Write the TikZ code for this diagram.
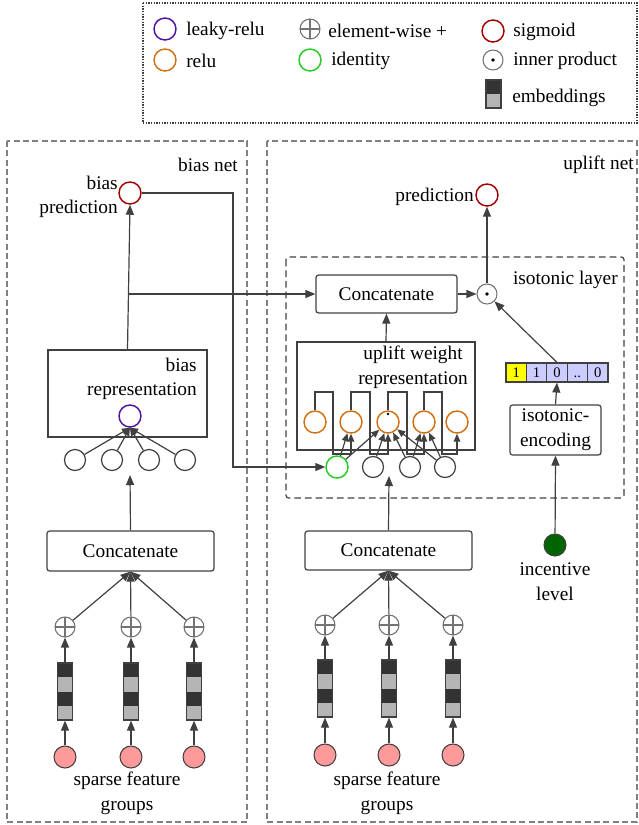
\documentclass[tikz,border=0pt]{standalone}
\usepackage{fontspec}
\setmainfont{Liberation Serif}
\usetikzlibrary{arrows.meta}
\definecolor{lc}{HTML}{404040}
\definecolor{purp}{HTML}{5012A0}
\definecolor{orng}{HTML}{D07012}
\definecolor{grn}{HTML}{22CC22}
\definecolor{sigred}{HTML}{A00000}
\definecolor{pinkf}{HTML}{FF9A9A}
\definecolor{dgrn}{HTML}{006400}
\definecolor{embd}{HTML}{333333}
\definecolor{embl}{HTML}{B4B4B4}
\definecolor{lav}{HTML}{CCCCFF}
\definecolor{yel}{HTML}{FFFF00}
\newcommand\embbar[3]{%
  \fill[embd] ({#2-7.5},{#3-28.5}) rectangle ({#2+7.5},{#3-14.25});
  \fill[embl] ({#2-7.5},{#3-14.25}) rectangle ({#2+7.5},{#3});
  \fill[embd] ({#2-7.5},{#3}) rectangle ({#2+7.5},{#3+14.25});
  \fill[embl] ({#2-7.5},{#3+14.25}) rectangle ({#2+7.5},{#3+28.5});
  \node[draw=lc, line width=0.9pt, minimum width=11.25pt, minimum height=42.75pt, inner sep=0] (#1) at (#2,#3) {};
}
\begin{document}
\begin{tikzpicture}[x=0.75pt,y=-0.75pt, font=\fontsize{14.5}{18.5}\selectfont,
  line/.style={draw=lc, line width=0.9pt},
  arr/.style={line, -{Triangle[length=7.5pt,width=6pt]}},
  sarr/.style={line, -{Triangle[length=6pt,width=5pt]}},
  neuron/.style={circle, minimum size=16.5pt, inner sep=0, line width=1.1pt},
  plusn/.style={circle, draw=gray!90!black, minimum size=15pt, inner sep=0, line width=0.8pt,
    path picture={\draw[gray!90!black, line width=0.8pt] (path picture bounding box.north) -- (path picture bounding box.south)
      (path picture bounding box.west) -- (path picture bounding box.east);}},
  dotn/.style={circle, draw=gray!90!black, minimum size=15pt, inner sep=0, line width=0.8pt,
    path picture={\fill[black] (path picture bounding box.center) circle (1.4pt);}},
  pinkn/.style={circle, draw=lc, fill=pinkf, minimum size=16.5pt, inner sep=0, line width=0.8pt},
  catbox/.style={draw=lc, line width=0.9pt, rounded corners=2pt, inner sep=0},
  lbl/.style={inner sep=0},
  cell/.style={draw=lc, line width=0.8pt, minimum width=15.3pt, minimum height=14.25pt, inner sep=0,
    text height=7.5pt, text depth=0pt, font=\fontsize{11}{12}\selectfont},
  netbox/.style={draw=gray, line width=0.8pt, dash pattern=on 4.5pt off 2.5pt}
]
\useasboundingbox (0,0) rectangle (639,825);

% ---------------- legend ----------------
\draw[lc, line width=0.8pt, dash pattern=on 1pt off 1pt] (143,3) rectangle (637,123);
\node[neuron, draw=purp] (lg1) at (165,29) {};
\node[lbl, anchor=west] (lt1) at (186,31) {leaky-relu};
\node[neuron, draw=orng] (lg2) at (165,60) {};
\node[lbl, anchor=west] (lt2) at (186,61) {relu};
\node[plusn] (lg3) at (310,29) {};
\node[lbl, anchor=west] (lt3) at (328,31) {element-wise +};
\node[neuron, draw=grn] (lg4) at (310,60) {};
\node[lbl, anchor=west] (lt4) at (331,61) {identity};
\node[neuron, draw=sigred] (lg5) at (493,31) {};
\node[lbl, anchor=west] (lt5) at (513,32) {sigmoid};
\node[dotn] (lg6) at (493,60) {};
\node[lbl, anchor=west] (lt6) at (513,61) {inner product};
\fill[embd] (486,80) rectangle (501,94);
\fill[embl] (486,94) rectangle (501,108);
\node[draw=lc, line width=0.8pt, minimum width=11.25pt, minimum height=21pt, inner sep=0] (lg7) at (493.5,94) {};
\node[lbl, anchor=west] (lt7) at (512,98) {embeddings};

% ---------------- net boxes ----------------
\draw[netbox] (7,141) rectangle (247,822);
\draw[netbox] (267,141) rectangle (637,822);
\node[lbl, anchor=east] (bnl) at (238,165) {bias net};
\node[lbl, anchor=east] (unl) at (634,165) {uplift net};

% isotonic layer
\draw[lc, line width=0.9pt, dash pattern=on 5pt off 3pt, rounded corners=2pt] (286,257) rectangle (624,498);
\node[lbl, anchor=east] (isl) at (618,280) {isotonic layer};

% ---------------- bias net ----------------
\node[neuron, draw=sigred] (bp) at (130,193) {};
\node[lbl, anchor=east, align=right] (bpl) at (118,197) {bias\\prediction};
\node[draw=lc, line width=0.9pt, minimum width=119.25pt, minimum height=65.25pt, inner sep=0] (brep) at (127.5,393.5) {};
\node[lbl, anchor=east, align=right] (brepl) at (197,379) {bias\\representation};
\node[neuron, draw=purp] (lr) at (130,416) {};
\foreach \i/\x in {1/75,2/112,3/149,4/185} {
  \node[neuron, draw=lc, line width=0.9pt, minimum size=15.75pt] (h\i) at (\x,460) {};
  \draw[sarr] (h\i) -- (lr.south);
}
\node[catbox, minimum width=125.25pt, minimum height=30pt] (bcat) at (130.5,551) {Concatenate};
\coordinate (bin) at (130,475);
\draw[arr] (bcat.north) -- (bin);
\foreach \i/\x in {1/65,2/131,3/194} {
  \node[plusn] (bpl\i) at (\x,627) {};
  \embbar{be\i}{\x}{691.5}
  \node[pinkn] (bpk\i) at (\x,757) {};
  \draw[arr] (bpk\i) -- (be\i.south);
  \draw[arr] (be\i.north) -- (bpl\i);
  \draw[arr] (bpl\i) -- (bcat.south);
}
\node[lbl, align=center] (bsf) at (127,793) {sparse feature\\groups};

\draw[arr] (brep.north) -- (bp.south);
\coordinate (bj) at (128.2,294);
\coordinate (bc1) at (233,193);

% ---------------- uplift net ----------------
\node[neuron, draw=sigred] (pr) at (487,195) {};
\node[lbl, anchor=east] (prl) at (474,197) {prediction};
\node[catbox, minimum width=105.75pt, minimum height=28.5pt] (ucat2) at (386.5,294) {Concatenate};
\node[dotn] (ip) at (487,294) {};
\draw[arr] (ucat2.east) -- (ip.west);
\draw[arr] (ip.north) -- (pr.south);
\draw[arr] (bj) -- (ucat2.west);

% uplift weight representation
\node[draw=lc, line width=0.9pt, minimum width=133.5pt, minimum height=81pt, inner sep=0] (uwr) at (386,396) {};
\node[lbl, align=center] (uwrl) at (413,367) {uplift weight\\representation};
\draw[arr] (uwr.north) -- (ucat2.south);
\foreach \i/\x in {1/315,2/351,3/388,4/424,5/457} {
  \node[neuron, draw=orng] (o\i) at (\x,422) {};
}
\fill[black] (388,414) circle (1pt);
\node[neuron, draw=grn] (g0) at (337,467) {};
\node[neuron, draw=lc, line width=0.9pt, minimum size=15.75pt] (k1) at (373,467) {};
\node[neuron, draw=lc, line width=0.9pt, minimum size=15.75pt] (k2) at (410,467) {};
\node[neuron, draw=lc, line width=0.9pt, minimum size=15.75pt] (k3) at (445,467) {};
% meander connections
\draw[sarr] (o1.north) -- (315,392) -- (333,392) -- (333,454) -- (351,454) -- (o2.south);
\draw[sarr] (o2.north) -- (351,392) -- (370,392) -- (370,454) -- (388,454) -- (o3.south);
\draw[sarr] (o3.north) -- (388,392) -- (407,392) -- (407,454) -- (424,454) -- (o4.south);
\draw[sarr] (o4.north) -- (424,392) -- (442,392) -- (442,454) -- (457,454) -- (o5.south);
% cross connections
\draw[sarr] (g0) -- (o2);
\draw[sarr] (g0) -- (o3);
\draw[sarr] (k1) -- (o3);
\draw[sarr] (k2) -- (o3);
\draw[sarr] (k2) -- (o4);
\draw[sarr] (k3) -- (o3);
\draw[sarr] (k3) -- (o4);

% bias prediction to identity
\draw[arr] (bp.east) -- (bc1) |- (g0.west);

% isotonic encoding
\node[cell, fill=yel] (c1) at (516.2,372.5) {1};
\node[cell, fill=lav] (c2) at (536.6,372.5) {1};
\node[cell, fill=lav] (c3) at (557,372.5) {0};
\node[cell, fill=lav] (c4) at (577.4,372.5) {..};
\node[cell, fill=lav] (c5) at (597.8,372.5) {0};
\draw[arr] (c3.north) -- (ip);
\node[catbox, minimum width=68.25pt, minimum height=37.5pt, align=center] (enc) at (555.5,430) {isotonic-\\encoding};
\draw[arr] (enc.north) -- (c3.south);
\node[neuron, draw=lc, fill=dgrn, line width=0.8pt] (inc) at (555,545) {};
\draw[arr] (inc) -- (enc.south);
\node[lbl, align=center] (incl) at (555,582) {incentive\\level};

% uplift input
\node[catbox, minimum width=125.25pt, minimum height=29.25pt] (ucat) at (388.5,550.5) {Concatenate};
\coordinate (uin) at (389,476);
\draw[arr] (ucat.north) -- (uin);
\foreach \i/\x in {1/325,2/389,3/453} {
  \node[plusn] (upl\i) at (\x,625) {};
  \embbar{ue\i}{\x}{688.5}
  \node[pinkn] (upk\i) at (\x,755) {};
  \draw[arr] (upk\i) -- (ue\i.south);
  \draw[arr] (ue\i.north) -- (upl\i);
  \draw[arr] (upl\i) -- (ucat.south);
}
\node[lbl, align=center] (usf) at (387,793) {sparse feature\\groups};
\end{tikzpicture}
\end{document}
